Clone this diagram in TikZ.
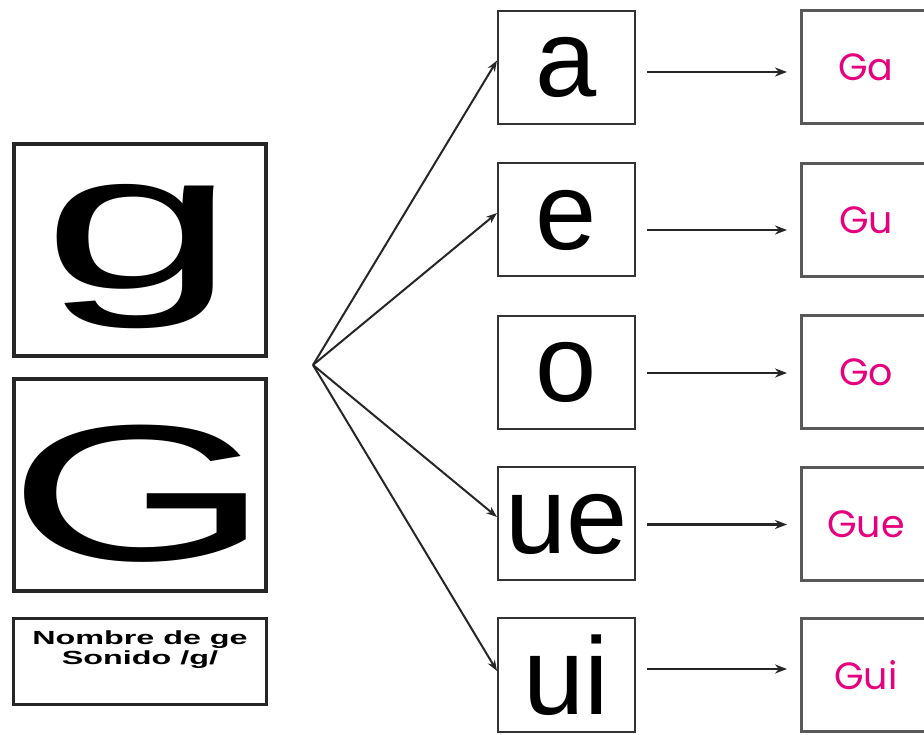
\documentclass[tikz,border=0pt]{standalone}
\usepackage{fontspec}
\setmainfont{Liberation Sans}
\newfontfamily\pinkfont{Poppins}
\usetikzlibrary{arrows.meta}
\definecolor{silabapink}{HTML}{E6007E}

\tikzset{
  letterbox/.style={draw=black!85, line width=3.5pt, minimum width=252pt, minimum height=212pt, inner sep=0pt, font=\fontsize{194}{194}\selectfont},
  vowelbox/.style={draw=black!80, line width=2pt, minimum width=137pt, minimum height=113pt, inner sep=0pt, font=\fontsize{110}{110}\selectfont},
  syllbox/.style={draw=black!65, line width=3pt, minimum width=129pt, minimum height=113pt, inner sep=0pt, font=\pinkfont\fontsize{38}{38}\selectfont, text=silabapink},
  fanarrow/.style={line width=2pt, black!85, -{Stealth[length=11pt,width=8pt]}},
  rowarrow/.style={line width=2.2pt, black!85, -{Stealth[length=12pt,width=9pt]}, shorten <=11pt, shorten >=13pt},
}

\begin{document}
\begin{tikzpicture}[x=1pt, y=1pt]
  \useasboundingbox (0,0) rectangle (924,734);

  % left column: the letter and its name
  \node[letterbox] (small) at (140,484) {\raisebox{-39pt}[0pt][0pt]{\makebox[0pt]{\scalebox{1.8}[1]{g}}}};
  \node[letterbox] (capital) at (140,249) {\raisebox{-76pt}[0pt][0pt]{\makebox[0pt]{\scalebox{1.75}[1]{G}}}};
  \node[draw=black!85, line width=3pt, minimum width=253pt, minimum height=86pt] (name) at (140,72.5) {};
  \node[font=\bfseries\fontsize{19}{20}\selectfont, align=center, inner sep=0pt] (nametext) at (140,84)
    {\scalebox{1.7}[1]{Nombre de ge}\\\scalebox{1.7}[1]{Sonido /g/}};

  % vowels
  \node[vowelbox] (a) at (566.5,666.5) {a};
  \node[vowelbox] (e) at (566.5,514) {e};
  \node[vowelbox] (o) at (566.5,361.5) {o};
  \node[vowelbox] (ue) at (566.5,210) {ue};
  \node[vowelbox] (ui) at (566.5,59) {ui};

  % syllables
  \node[syllbox] (ga) at (866,666.5) {Ga};
  \node[syllbox] (gu) at (866,514) {Gu};
  \node[syllbox] (go) at (866,361.5) {Go};
  \node[syllbox] (gue) at (866,210) {Gue};
  \node[syllbox] (gui) at (866,59) {Gui};

  % fan of arrows
  \coordinate (fan) at (313,369);
  \draw[fanarrow] (fan) -- ([yshift=7pt]a.west);
  \draw[fanarrow] (fan) -- ([yshift=7pt]e.west);
  \draw[fanarrow] (fan) -- ([yshift=7pt]ue.west);
  \draw[fanarrow] (fan) -- ([yshift=4pt]ui.west);

  % vowel -> syllable
  \draw[rowarrow] ([yshift=-4.5pt]a.east) -- ([yshift=-4.5pt]ga.west);
  \draw[rowarrow] ([yshift=-10pt]e.east) -- ([yshift=-10pt]gu.west);
  \draw[rowarrow] ([yshift=-0.5pt]o.east) -- ([yshift=-0.5pt]go.west);
  \draw[rowarrow] ([yshift=-0.5pt]ue.east) -- ([yshift=-0.5pt]gue.west);
  \draw[rowarrow] ([yshift=6pt]ui.east) -- ([yshift=6pt]gui.west);
\end{tikzpicture}
\end{document}
